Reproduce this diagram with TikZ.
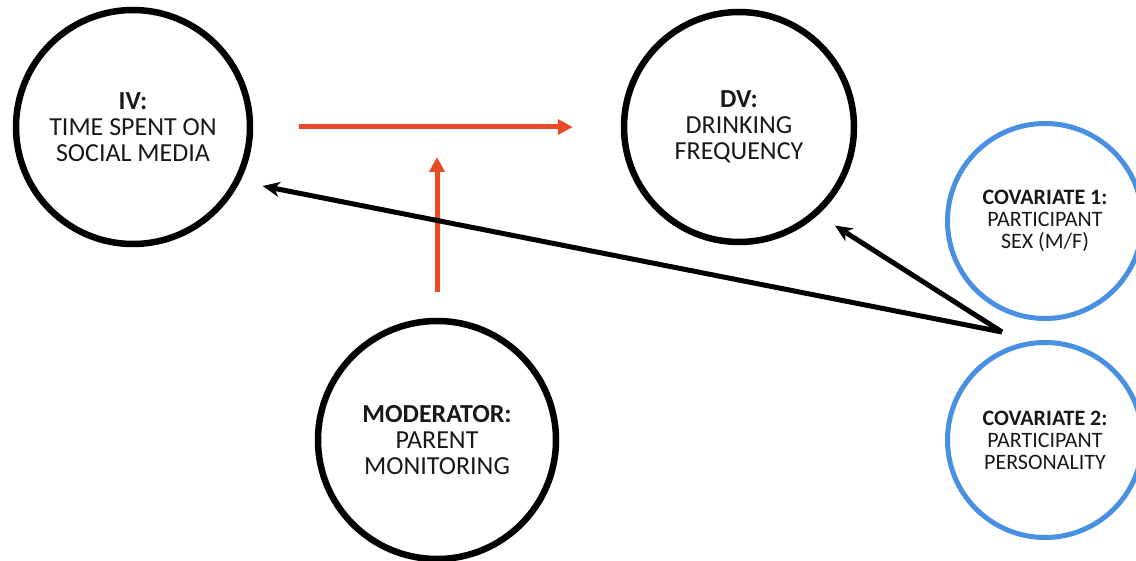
\documentclass[tikz,border=0pt]{standalone}
\usepackage{fontspec}
\setmainfont{Carlito}
\usetikzlibrary{arrows.meta}
\definecolor{arrowred}{RGB}{232,74,39}
\definecolor{covblue}{RGB}{74,144,226}

\begin{document}
\begin{tikzpicture}[x=1pt,y=-1pt]
	\tikzset{
		var/.style={circle,draw,line width=6.5pt,align=center,
			font=\fontsize{26}{26}\selectfont,text=black!90},
		cov/.style={circle,draw=covblue,line width=5pt,align=center,
			minimum size=195pt,font=\fontsize{22}{22}\selectfont,text=black!90},
		modarrow/.style={draw=arrowred,line width=5pt,-{Triangle[length=15pt,width=15pt]}},
		covarrow/.style={draw=black,line width=5pt,-{Stealth[length=17pt,width=15pt,inset=5pt]}}}
	\useasboundingbox(0,0) rectangle (1136,561);
	\node[var,minimum size=234pt](iv) at (133,127){\textbf{IV:}\\TIME SPENT ON\\SOCIAL MEDIA};
	\node[var,minimum size=230pt](dv) at (739,127){\textbf{DV:}\\DRINKING\\FREQUENCY};
	\node[var,minimum size=238pt](mod) at (437,440){\textbf{MODERATOR:}\\PARENT\\MONITORING};
	\node[cov](cov1) at (1045,221){\textbf{COVARIATE 1:}\\PARTICIPANT\\SEX (M/F)};
	\node[cov](cov2) at (1045,440){\textbf{COVARIATE 2:}\\PARTICIPANT\\PERSONALITY};
	\coordinate(m) at (437,127);
	\coordinate(c) at (1002,332);
	% moderation
	\draw[modarrow,shorten <=46pt,shorten >=48pt](iv)--(dv);
	\draw[modarrow,shorten <=26pt,shorten >=30pt](mod)--(m);
	% covariates
	\draw[covarrow,shorten >=23pt](c)--(iv.-27);
	\draw[covarrow,shorten >=20pt](c)--(dv.-48);
\end{tikzpicture}
\end{document}
